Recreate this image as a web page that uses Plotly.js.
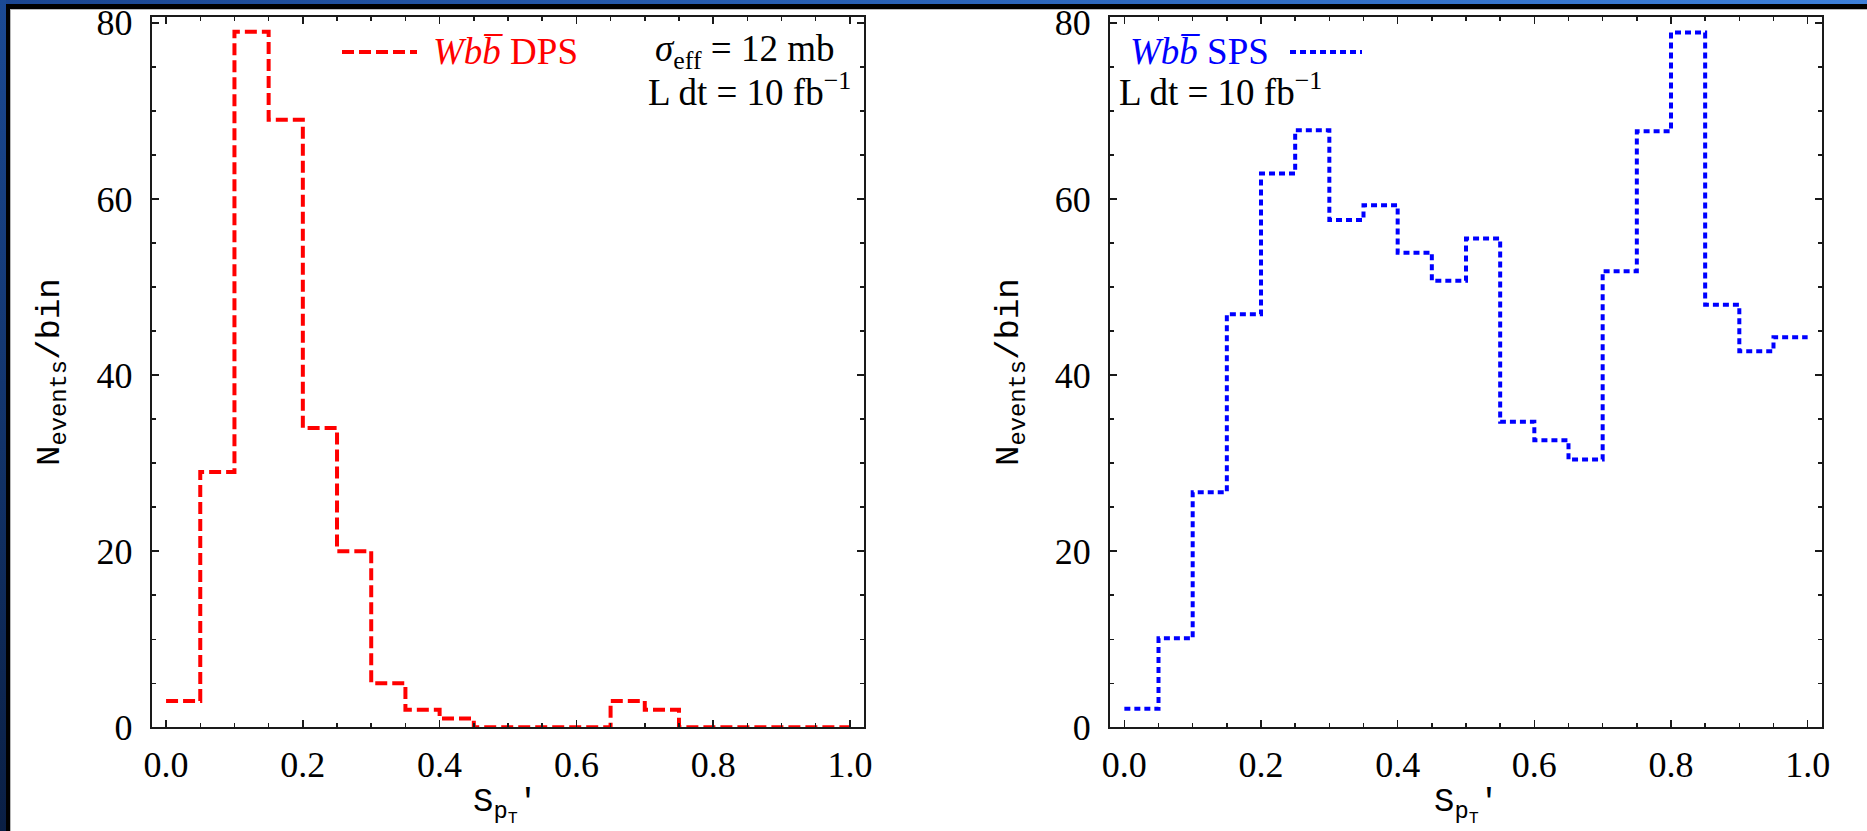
<!DOCTYPE html>
<html>
<head>
<meta charset="utf-8">
<script src="https://cdn.plot.ly/plotly-3.0.1.min.js"></script>
<style>
html,body{margin:0;padding:0;background:#fff;}
#wrap{position:relative;width:1867px;height:831px;overflow:hidden;background:#fff;}
.b{position:absolute;}
#chart{position:absolute;left:0;top:0;width:1867px;height:831px;}
</style>
</head>
<body>
<div id="wrap">
  <div class="b" style="left:0;top:0;width:1867px;height:4px;background:linear-gradient(90deg,#1a4590,#2a63b8 50%,#3d80da);"></div>
  <div class="b" style="left:6px;top:4px;width:1861px;height:5px;background:#000;"></div>
  <div class="b" style="left:10px;top:9px;width:1857px;height:1px;background:#b8b8b8;"></div>
  <div class="b" style="left:0;top:0;width:6px;height:831px;background:linear-gradient(180deg,#1b4a94,#0a1f44);"></div>
  <div class="b" style="left:6px;top:4px;width:4px;height:827px;background:#000;"></div>
  <div class="b" style="left:10px;top:9px;width:1px;height:822px;background:#b8b8b8;"></div>
  <div id="chart"></div>
</div>
<script>
// ---- data ----
const binEdges = [0.00,0.05,0.10,0.15,0.20,0.25,0.30,0.35,0.40,0.45,0.50,0.55,0.60,0.65,0.70,0.75,0.80,0.85,0.90,0.95,1.00];
const dpsCounts = [3,29,79,69,34,20,5,2,1,0,0,0,0,3,2,0,0,0,0,0];
const spsCounts = [2.1,10.1,26.7,46.9,62.9,67.8,57.6,59.3,53.9,50.7,55.5,34.7,32.6,30.4,51.8,67.7,78.9,48.0,42.7,44.3];
const xTickVals = [0,0.2,0.4,0.6,0.8,1.0];
const xTickLabels = ['0.0','0.2','0.4','0.6','0.8','1.0'];
const yTickVals = [0,20,40,60,80];
const yTickLabels = ['0','20','40','60','80'];
const yMinorVals = [0,5,10,15,20,25,30,35,40,45,50,55,60,65,70,75,80];

// ---- helpers ----
const W = 1867, H = 831;
const px = v => v / W;
const py = v => 1 - v / H;
const stepY = c => c.concat([c[c.length - 1]]);

const serif = 'Liberation Serif, Times New Roman, serif';
const mono = 'Liberation Mono, Courier New, monospace';
const RED = '#ff0000', BLUE = '#0000ff';
const redDash = '12px,5px', blueDash = '6px,4px';
const TICK = 36, TXT = 37, TTL = 34;

const traces = [
  {x: binEdges, y: stepY(dpsCounts), xaxis: 'x', yaxis: 'y', type: 'scatter', mode: 'lines',
   line: {shape: 'hv', color: RED, width: 4, dash: redDash}, name: 'Wbb DPS', hoverinfo: 'x+y'},
  {x: binEdges, y: stepY(spsCounts), xaxis: 'x2', yaxis: 'y2', type: 'scatter', mode: 'lines',
   line: {shape: 'hv', color: BLUE, width: 4, dash: blueDash}, name: 'Wbb SPS', hoverinfo: 'x+y'}
];

function xAx(dom, anchor) {
  return {
    domain: dom, anchor: anchor, range: [-0.021, 1.021],
    showline: true, linewidth: 2, linecolor: '#1a1a1a', mirror: 'ticks',
    ticks: 'inside', ticklen: 7, tickwidth: 1.5, tickcolor: '#1a1a1a',
    tickmode: 'array', tickvals: xTickVals, ticktext: xTickLabels,
    minor: {tickmode: 'array', tickvals: binEdges, ticks: 'inside', ticklen: 4, tickwidth: 1.5, tickcolor: '#1a1a1a', showgrid: false},
    showgrid: false, zeroline: false, ticklabelstandoff: 4,
    tickfont: {family: serif, size: TICK, color: '#000'}, fixedrange: true
  };
}
function yAx(dom, anchor) {
  return {
    domain: dom, anchor: anchor, range: [0, 80.7],
    showline: true, linewidth: 2, linecolor: '#1a1a1a', mirror: 'ticks',
    ticks: 'inside', ticklen: 7, tickwidth: 1.5, tickcolor: '#1a1a1a',
    tickmode: 'array', tickvals: yTickVals, ticktext: yTickLabels,
    minor: {tickmode: 'array', tickvals: yMinorVals, ticks: 'inside', ticklen: 4, tickwidth: 1.5, tickcolor: '#1a1a1a', showgrid: false},
    showgrid: false, zeroline: false, ticklabelstandoff: 10,
    tickfont: {family: serif, size: TICK, color: '#000'}, fixedrange: true
  };
}

const yDom = [1 - 727.3 / H, 1 - 16.7 / H];
const L0 = 151.7, L1 = 864.3, R0 = 1110, R1 = 1822;

function ann(text, x, y, xa, opts) {
  return Object.assign({text: text, x: px(x), y: py(y), xref: 'paper', yref: 'paper',
    xanchor: xa, yanchor: 'middle', showarrow: false,
    font: {family: serif, size: TXT, color: '#000'}}, opts || {});
}

const bbar = 'b\u0305';
const yTitle = 'N<sub>events</sub>/bin';
const xTitle = 'S<sub>p<sub>T</sub></sub>\'';
const annotations = [
  ann('<i>Wb' + bbar + '</i> DPS', 431, 52, 'left', {font: {family: serif, size: TXT, color: RED}}),
  ann('<i>\u03c3</i><sub>eff</sub> = 12 mb', 836, 52, 'right'),
  ann('L dt = 10 fb<sup>\u22121</sup>', 853, 89, 'right'),
  ann('<i>Wb' + bbar + '</i> SPS', 1128, 52, 'left', {font: {family: serif, size: TXT, color: BLUE}}),
  ann('L dt = 10 fb<sup>\u22121</sup>', 1117, 89, 'left'),
  // axis titles
  ann(yTitle, 52, 372, 'center', {textangle: -90, font: {family: mono, size: TTL, color: '#000'}}),
  ann(yTitle, 1011, 372, 'center', {textangle: -90, font: {family: mono, size: TTL, color: '#000'}}),
  ann(xTitle, 505, 805, 'center', {font: {family: mono, size: TTL, color: '#000'}}),
  ann(xTitle, 1466, 805, 'center', {font: {family: mono, size: TTL, color: '#000'}})
];

const shapes = [
  {type: 'line', xref: 'paper', yref: 'paper', x0: px(342), x1: px(417), y0: py(52), y1: py(52),
   line: {color: RED, width: 4, dash: redDash}},
  {type: 'line', xref: 'paper', yref: 'paper', x0: px(1290), x1: px(1362), y0: py(52), y1: py(52),
   line: {color: BLUE, width: 4, dash: blueDash}}
];

const layout = {
  width: W, height: H, margin: {l: 0, r: 0, t: 0, b: 0},
  paper_bgcolor: 'rgba(0,0,0,0)', plot_bgcolor: 'rgba(0,0,0,0)',
  showlegend: false,
  xaxis: xAx([px(L0), px(L1)], 'y'),
  yaxis: yAx(yDom, 'x'),
  xaxis2: xAx([px(R0), px(R1)], 'y2'),
  yaxis2: yAx(yDom, 'x2'),
  annotations: annotations, shapes: shapes
};

Plotly.newPlot('chart', traces, layout, {displayModeBar: false, staticPlot: true});
</script>
</body>
</html>
